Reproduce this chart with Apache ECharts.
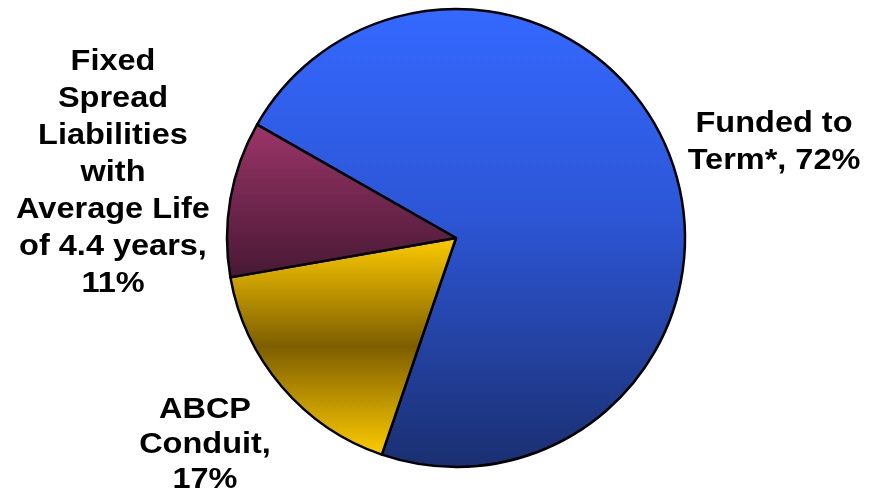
<!DOCTYPE html>
<html>
<head>
<meta charset="utf-8">
<script src="https://cdn.jsdelivr.net/npm/echarts@6/dist/echarts.min.js"></script>
<style>
  html, body { margin: 0; padding: 0; background: #fff; }
  #chart { width: 880px; height: 492px; }
</style>
</head>
<body>
<div id="chart"></div>
<script>
// Funding mix by liability type (percent of total)
const categories = ['Funded to Term*', 'ABCP Conduit', 'Fixed Spread Liabilities with Average Life of 4.4 years'];
const values = [72, 17, 11];
// Label text, broken into lines as displayed
const labelLines = [
  ['Funded to', 'Term*, ' + values[0] + '%'],
  ['ABCP', 'Conduit,', values[1] + '%'],
  ['Fixed', 'Spread', 'Liabilities', 'with', 'Average Life', 'of 4.4 years,', values[2] + '%']
];

// Slice fills: vertical gradients
const fills = [
  new echarts.graphic.LinearGradient(0, 0, 0, 1, [
    { offset: 0, color: '#3468ff' },
    { offset: 0.45, color: '#2d56d6' },
    { offset: 1, color: '#1a2f70' }
  ]),
  new echarts.graphic.LinearGradient(0, 0, 0, 1, [
    { offset: 0, color: '#ffcc00' },
    { offset: 0.5, color: '#7d5e00' },
    { offset: 1, color: '#ffcc00' }
  ]),
  new echarts.graphic.LinearGradient(0, 0, 0, 1, [
    { offset: 0, color: '#9c3569' },
    { offset: 1, color: '#461833' }
  ])
];

// Centre of each label block; text is set slightly wide
const labelAnchors = [
  { x: 774, y: 142, lh: 37 },
  { x: 205, y: 445, lh: 35 },
  { x: 113, y: 173, lh: 37 }
];

const chart = echarts.init(document.getElementById('chart'), null, { renderer: 'canvas' });
chart.setOption({
  animation: false,
  backgroundColor: '#ffffff',
  graphic: labelLines.map((lines, i) => ({
    type: 'text',
    x: labelAnchors[i].x,
    y: labelAnchors[i].y,
    scaleX: 1.12,
    silent: true,
    style: {
      text: lines.join('\n'),
      x: 0,
      y: 0,
      align: 'center',
      verticalAlign: 'middle',
      fontFamily: 'Liberation Sans, Arial, sans-serif',
      fontWeight: 'bold',
      fontSize: 29,
      lineHeight: labelAnchors[i].lh,
      fill: '#000'
    }
  })),
  series: [{
    type: 'pie',
    center: [456, 238],
    radius: [0, 229],
    startAngle: 150.3,
    clockwise: true,
    data: categories.map((name, i) => ({
      name,
      value: values[i],
      itemStyle: { color: fills[i] }
    })),
    itemStyle: { borderColor: '#000', borderWidth: 2.5 },
    label: { show: false },
    labelLine: { show: false },
    emphasis: { disabled: true }
  }]
});
</script>
</body>
</html>
